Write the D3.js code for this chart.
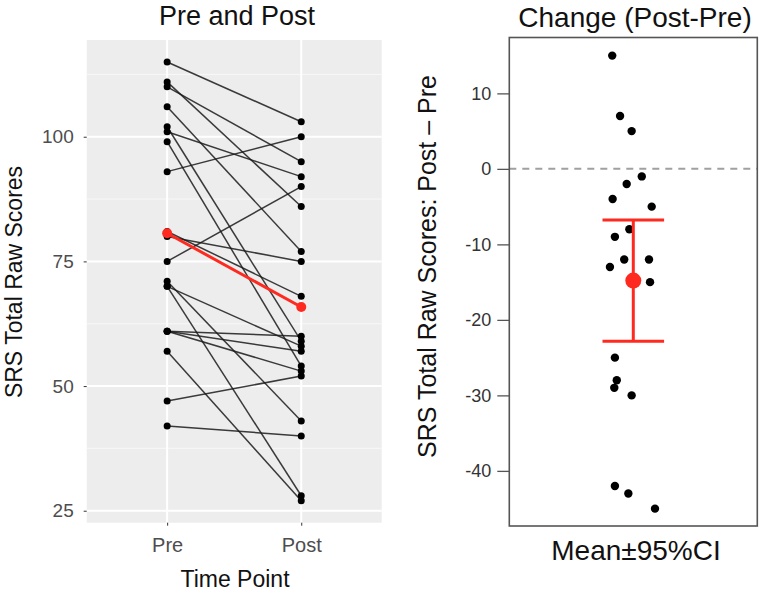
<!DOCTYPE html>
<html>
<head>
<meta charset="utf-8">
<script src="https://cdn.jsdelivr.net/npm/d3@7"></script>
<style>
  html, body { margin: 0; padding: 0; background: #fff; }
  svg { display: block; font-family: "Liberation Sans", Arial, Helvetica, sans-serif; }
</style>
</head>
<body>
<svg id="chart" width="760" height="591"></svg>
<script>
// ---------------- data ----------------
const timePoints = ["Pre", "Post"];
const preScores  = [115, 111, 110, 106, 102, 101, 99, 93, 81, 80, 75, 71, 70, 70, 61, 61, 61, 57, 47, 42];
const postScores = [103,  86,  95,  77,  59,  92, 54, 100, 68, 75, 90, 43, 28, 58, 60, 57, 53, 27, 52, 40];
// horizontal jitter of each subject's change point (in category units)
const changeJitter = [-0.044, -0.089, 0.081, -0.092, -0.024, -0.089, 0.105, -0.064, -0.113, 0.089,
                      -0.102, -0.080, -0.089, 0.076, 0.041, -0.100, -0.019, -0.008, -0.008, -0.032];
const leftTicks  = [25, 50, 75, 100];
const leftMinor  = [37.5, 62.5, 87.5, 112.5];
const rightTicks = [10, 0, -10, -20, -30, -40];
const tCrit = 2.093; // t(0.975, df = 19)

const changes = preScores.map((p, i) => postScores[i] - p);
const meanPre  = d3.mean(preScores);
const meanPost = d3.mean(postScores);
const meanChange = d3.mean(changes);
const se = d3.deviation(changes) / Math.sqrt(changes.length);
const ciLow = meanChange - tCrit * se, ciHigh = meanChange + tCrit * se;

const svg = d3.select("#chart");

// ---------------- left panel ----------------
const L = { x0: 86.7, x1: 381.7, y0: 40, y1: 522.7 };
const allScores = preScores.concat(postScores);
const [smin, smax] = d3.extent(allScores);
const pad = (smax - smin) * 0.05;
const xL = d3.scalePoint().domain(timePoints).range([L.x0, L.x1]).padding(0.6);
const yL = d3.scaleLinear().domain([smin - pad, smax + pad]).range([L.y1, L.y0]);

const gL = svg.append("g");
gL.append("rect").attr("x", L.x0).attr("y", L.y0)
  .attr("width", L.x1 - L.x0).attr("height", L.y1 - L.y0).attr("fill", "#EDEDED");
gL.selectAll(".minor").data(leftMinor).join("line")
  .attr("x1", L.x0).attr("x2", L.x1).attr("y1", d => yL(d)).attr("y2", d => yL(d))
  .attr("stroke", "#F8F8F8").attr("stroke-width", 1);
gL.selectAll(".major").data(leftTicks).join("line")
  .attr("x1", L.x0).attr("x2", L.x1).attr("y1", d => yL(d)).attr("y2", d => yL(d))
  .attr("stroke", "#FFFFFF").attr("stroke-width", 2);
gL.selectAll(".vmajor").data(timePoints).join("line")
  .attr("x1", d => xL(d)).attr("x2", d => xL(d)).attr("y1", L.y0).attr("y2", L.y1)
  .attr("stroke", "#FFFFFF").attr("stroke-width", 2);

// subject lines
gL.selectAll(".subj").data(preScores).join("line")
  .attr("x1", xL("Pre")).attr("x2", xL("Post"))
  .attr("y1", d => yL(d)).attr("y2", (d, i) => yL(postScores[i]))
  .attr("stroke", "#1a1a1a").attr("stroke-opacity", 0.85).attr("stroke-width", 1.5);
gL.selectAll(".prePt").data(preScores).join("circle")
  .attr("cx", xL("Pre")).attr("cy", d => yL(d)).attr("r", 3.5).attr("fill", "#000");
gL.selectAll(".postPt").data(postScores).join("circle")
  .attr("cx", xL("Post")).attr("cy", d => yL(d)).attr("r", 3.5).attr("fill", "#000");
// mean line
gL.append("line")
  .attr("x1", xL("Pre")).attr("x2", xL("Post"))
  .attr("y1", yL(meanPre)).attr("y2", yL(meanPost))
  .attr("stroke", "#FF2A1F").attr("stroke-width", 3);
gL.selectAll(".meanPt").data([["Pre", meanPre], ["Post", meanPost]]).join("circle")
  .attr("cx", d => xL(d[0])).attr("cy", d => yL(d[1])).attr("r", 5).attr("fill", "#FF2A1F");

// left axes
const axL = d3.axisLeft(yL).tickValues(leftTicks).tickSize(3).tickPadding(10);
const gAxL = svg.append("g").attr("transform", `translate(${L.x0},0)`).call(axL);
gAxL.select(".domain").remove();
gAxL.selectAll(".tick line").attr("stroke", "#333");
gAxL.selectAll(".tick text").attr("fill", "#4D4D4D").style("font-size", "19px")
  .style("font-family", "'Liberation Sans', Arial, sans-serif");

const axB = d3.axisBottom(xL).tickSize(3).tickPadding(12);
const gAxB = svg.append("g").attr("transform", `translate(0,${L.y1})`).call(axB);
gAxB.select(".domain").remove();
gAxB.selectAll(".tick line").attr("stroke", "#333");
gAxB.selectAll(".tick text").attr("fill", "#4D4D4D").style("font-size", "20px")
  .style("font-family", "'Liberation Sans', Arial, sans-serif");

svg.append("text").attr("x", 237).attr("y", 25).attr("text-anchor", "middle")
  .style("font-size", "27px").attr("fill", "#111").text("Pre and Post");
svg.append("text").attr("x", 235).attr("y", 587).attr("text-anchor", "middle")
  .style("font-size", "23px").attr("fill", "#111").text("Time Point");
svg.append("text").attr("transform", "translate(22,282) rotate(-90)").attr("text-anchor", "middle")
  .style("font-size", "23px").attr("fill", "#111").text("SRS Total Raw Scores");

// ---------------- right panel ----------------
const R = { x0: 509.3, x1: 757.3, y0: 37.5, y1: 526 };
const xR = d3.scaleLinear().domain([0.4, 1.6]).range([R.x0, R.x1]);
const yR = d3.scaleLinear().domain([-47.3, 17.4]).range([R.y1, R.y0]);

const gR = svg.append("g");
gR.append("line").attr("x1", R.x0).attr("x2", R.x1).attr("y1", yR(0)).attr("y2", yR(0))
  .attr("stroke", "#A0A0A0").attr("stroke-width", 2).attr("stroke-dasharray", "7,6");
gR.selectAll(".chg").data(changes).join("circle")
  .attr("cx", (d, i) => xR(1 + changeJitter[i])).attr("cy", d => yR(d))
  .attr("r", 4.2).attr("fill", "#000");
// error bar
const capHalf = 0.149;
gR.append("line").attr("x1", xR(1)).attr("x2", xR(1)).attr("y1", yR(ciLow)).attr("y2", yR(ciHigh))
  .attr("stroke", "#FF2A1F").attr("stroke-width", 3);
[ciLow, ciHigh].forEach(v => {
  gR.append("line").attr("x1", xR(1 - capHalf)).attr("x2", xR(1 + capHalf))
    .attr("y1", yR(v)).attr("y2", yR(v)).attr("stroke", "#FF2A1F").attr("stroke-width", 3);
});
gR.append("circle").attr("cx", xR(1)).attr("cy", yR(meanChange)).attr("r", 8).attr("fill", "#FF2A1F");
gR.append("rect").attr("x", R.x0).attr("y", R.y0).attr("width", R.x1 - R.x0).attr("height", R.y1 - R.y0)
  .attr("fill", "none").attr("stroke", "#555").attr("stroke-width", 1.6);

const axR = d3.axisLeft(yR).tickValues(rightTicks).tickSize(12).tickPadding(6).tickFormat(d3.format("d"));
const gAxR = svg.append("g").attr("transform", `translate(${R.x0},0)`).call(axR);
gAxR.select(".domain").remove();
gAxR.selectAll(".tick line").attr("stroke", "#555").attr("stroke-width", 1.3);
gAxR.selectAll(".tick text").attr("fill", "#333").style("font-size", "18px")
  .style("font-family", "'Liberation Sans', Arial, sans-serif")
  .text(d => d < 0 ? "-" + Math.abs(d) : String(d));

svg.append("text").attr("x", 635).attr("y", 27).attr("text-anchor", "middle")
  .style("font-size", "28px").attr("fill", "#111").text("Change (Post-Pre)");
svg.append("text").attr("x", 636).attr("y", 560).attr("text-anchor", "middle")
  .style("font-size", "28px").attr("fill", "#111").text("Mean±95%CI");
svg.append("text").attr("transform", "translate(436,266.5) rotate(-90)").attr("text-anchor", "middle")
  .style("font-size", "25px").attr("fill", "#111").text("SRS Total Raw Scores: Post – Pre");
</script>
</body>
</html>
